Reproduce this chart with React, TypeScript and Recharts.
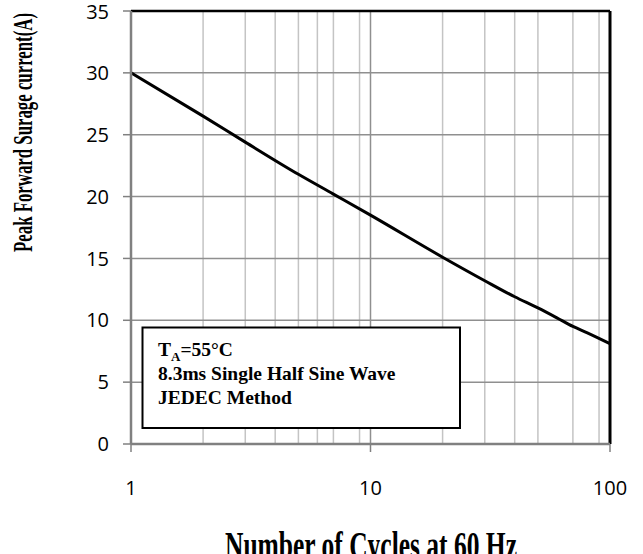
// SurgeCurrentChart.tsx
import { LineChart, Line, XAxis, YAxis, CartesianGrid, ReferenceLine } from 'recharts';

const cycles = [1, 2, 3, 5, 7, 10, 20, 30, 40, 50, 60, 70, 80, 100];
const current = [30, 26.5, 24.4, 21.8, 20.2, 18.5, 15.1, 13.2, 11.9, 11.0, 10.2, 9.5, 9.0, 8.1];

const xTicks = [1, 10, 100];
const yTicks = [0, 5, 10, 15, 20, 25, 30, 35];
const minorX = [2, 3, 4, 5, 6, 7, 8, 9, 20, 30, 40, 50, 60, 70, 80, 90];
const majorX = [10];

const xTitle = 'Number of Cycles at 60 Hz';
const yTitle = 'Peak Forward Surage current(A)';
const noteLines = ['8.3ms Single Half Sine Wave', 'JEDEC Method'];

const W = 643;
const H = 554;
const tickFont = { fontSize: 20, fill: '#000', fontFamily: '"Open Sans", sans-serif' };
const serif = '"Liberation Serif", "Times New Roman", serif';

export default function App() {
  const data = cycles.map((c, i) => ({ cycles: c, current: current[i] }));

  return (
    <div style={{ position: 'absolute', left: 0, top: 0, width: W, height: H, background: '#fff' }}>
      <LineChart width={W} height={H} data={data} margin={{ top: 11, right: 33, bottom: 0, left: 0 }}>
        <CartesianGrid vertical={true} horizontal={false} verticalValues={minorX} stroke="#c4c4c4" strokeWidth={1.5} />
        <CartesianGrid vertical={true} horizontal={true} verticalValues={majorX} horizontalValues={yTicks} stroke="#8f8f8f" strokeWidth={1.5} />
        <XAxis
          dataKey="cycles"
          type="number"
          scale="log"
          domain={[1, 100]}
          ticks={xTicks}
          allowDataOverflow
          height={110}
          tickSize={8}
          tickMargin={29}
          tick={tickFont}
          axisLine={{ stroke: '#808080', strokeWidth: 2.5 }}
          tickLine={{ stroke: '#808080', strokeWidth: 1.5 }}
        />
        <YAxis
          type="number"
          domain={[0, 35]}
          ticks={yTicks}
          width={131}
          tickSize={8}
          tickMargin={14}
          tick={tickFont}
          axisLine={{ stroke: '#808080', strokeWidth: 2.5 }}
          tickLine={{ stroke: '#808080', strokeWidth: 1.5 }}
        />
        <ReferenceLine y={35} stroke="#000" strokeWidth={2.5} />
        <ReferenceLine x={100} stroke="#000" strokeWidth={3} />
        <Line
          dataKey="current"
          type="monotone"
          stroke="#000"
          strokeWidth={3}
          dot={false}
          isAnimationActive={false}
        />
      </LineChart>

      <svg width={W} height={H} style={{ position: 'absolute', left: 0, top: 0, pointerEvents: 'none' }}>
        {/* note box */}
        <rect x={142.5} y={327.5} width={317.5} height={100.5} fill="#fff" stroke="#000" strokeWidth={2} />
        <text x={158} y={356} fontFamily={serif} fontWeight="bold" fontSize={19.5} fill="#000">
          T
          <tspan fontSize={13} dy={5}>A</tspan>
          <tspan dy={-5}>=55°C</tspan>
        </text>
        {noteLines.map((t, i) => (
          <text key={t} x={158} y={379.5 + i * 24.5} fontFamily={serif} fontWeight="bold" fontSize={19.5} fill="#000">
            {t}
          </text>
        ))}

        {/* axis titles */}
        <g transform="translate(371, 532) scale(1, 1.6)">
          <text x={0} y={17} textAnchor="middle" fontFamily={serif} fontWeight="bold" fontSize={25.5} fill="#000">
            {xTitle}
          </text>
        </g>
        <g transform="translate(26, 132.5) rotate(-90) scale(1, 1.6)">
          <text x={0} y={4} textAnchor="middle" fontFamily={serif} fontWeight="bold" fontSize={16.8} fill="#000">
            {yTitle}
          </text>
        </g>
      </svg>
    </div>
  );
}
